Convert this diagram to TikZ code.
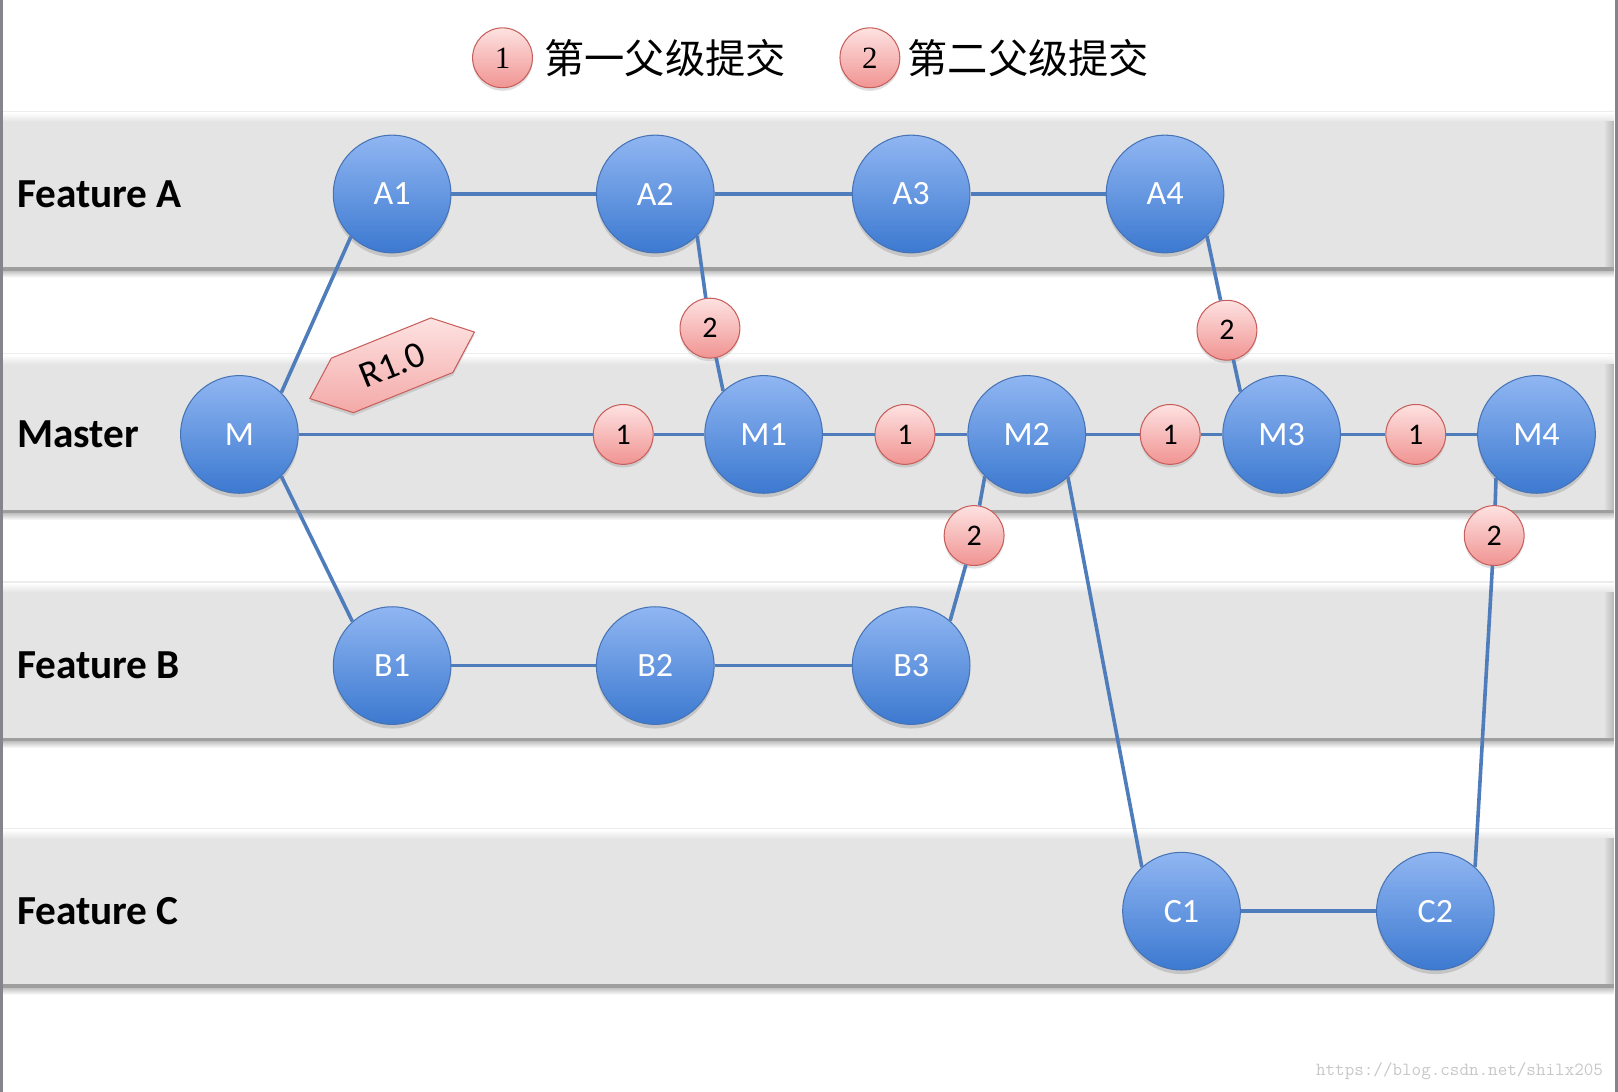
\documentclass[tikz,border=0pt]{standalone}
\usepackage{fontspec}
\setmainfont{Carlito}
\newfontfamily\cjk{Noto Sans CJK SC}
\newfontfamily\keyfont{Liberation Serif}
\usetikzlibrary{shapes.symbols,shadows}
\definecolor{bandgray}{HTML}{E4E4E4}
\definecolor{edgegray}{HTML}{84848C}
\definecolor{committop}{HTML}{90B6F2}
\definecolor{commitbot}{HTML}{3C79D0}
\definecolor{commitline}{HTML}{4673B5}
\definecolor{parenttop}{HTML}{FDE2E1}
\definecolor{parentbot}{HTML}{F09492}
\definecolor{parentline}{HTML}{C85E5B}
\definecolor{linkblue}{HTML}{4F7DBC}

\begin{document}
\begin{tikzpicture}[x=1pt,y=-1pt,
   commit/.style={circle,draw=commitline,line width=1pt,top color=committop,bottom color=commitbot,
     minimum size=114pt,inner sep=0pt,text=white,font=\fontsize{33}{33}\selectfont,
     drop shadow={opacity=.3,shadow xshift=0pt,shadow yshift=-4pt}},
   parent/.style={circle,draw=parentline,line width=1pt,top color=parenttop,bottom color=parentbot,
     minimum size=58pt,inner sep=0pt,font=\fontsize{29}{29}\selectfont,
     drop shadow={opacity=.25,shadow xshift=0pt,shadow yshift=-3pt}},
   lane/.style={anchor=west,font=\fontsize{40}{40}\selectfont\bfseries},
   legend/.style={anchor=west,font=\cjk\fontsize{39}{39}\selectfont},
   link/.style={draw=linkblue,line width=3.5pt}]
\useasboundingbox (0,0) rectangle (1568,1058);
% lanes
\foreach \t in {109,344,565,804} {
  \fill[bandgray] (3,\t) rectangle (1564,\t+154);
  \shade[top color=white,bottom color=bandgray] (3,\t) rectangle (1564,\t+9);
  \shade[left color=bandgray,right color=black!28] (1554,\t+9) rectangle (1564,\t+151);
  \fill[black!38] (3,\t+150) rectangle (1564,\t+154);
  \shade[top color=black!22,bottom color=white] (3,\t+154) rectangle (1564,\t+160);
  \draw[black!7,line width=1pt] (3,\t-1) -- (1564,\t-1);
}
\draw[edgegray,line width=3pt] (1.5,0) -- (1.5,1058) (1566.5,0) -- (1566.5,1058);
\node[lane] (labA) at (13,188) {Feature A};
\node[lane] (labM) at (13,421) {Master};
\node[lane] (labB) at (13,645) {Feature B};
\node[lane] (labC) at (13,883) {Feature C};
% legend
\node[parent,font=\keyfont\fontsize{30}{30}\selectfont] (key1) at (487,56) {1};
\node[legend] (key1txt) at (524,56) {第一父级提交};
\node[parent,font=\keyfont\fontsize{30}{30}\selectfont] (key2) at (843,56) {2};
\node[legend] (key2txt) at (876,56) {第二父级提交};
% commits
\foreach \n/\x/\y in {A1/380/188,A2/635/188,A3/883/188,A4/1129/188,
    M/232/421,M1/740/421,M2/995/421,M3/1242/421,M4/1489/421,
    B1/380/645,B2/635/645,B3/883/645,C1/1145/883,C2/1391/883}
  \node[commit] (\n) at (\x,\y) {\n};
% parents
\foreach \n/\x/\y in {f1/604/421,f2/877/421,f3/1134/421,f4/1372/421}
  \node[parent] (\n) at (\x,\y) {1};
\foreach \n/\x/\y in {s1/688/318,s2/1189/320,s3/944/519,s4/1448/519}
  \node[parent] (\n) at (\x,\y) {2};
\node[shape=signal,signal to=west and east,signal pointer angle=80,draw=parentline,line width=1pt,
  top color=parenttop,bottom color=parentbot!80,minimum width=172pt,minimum height=57pt,
  inner sep=2pt,rotate=22,font=\fontsize{36}{36}\selectfont,
  drop shadow={opacity=.25,shadow xshift=0pt,shadow yshift=-3pt}] (tag) at (380,354) {R1.0};
% links
\path[link] (M) -- (f1) -- (M1) -- (f2) -- (M2) -- (f3) -- (M3) -- (f4) -- (M4);
\path[link] (A1) -- (A2) -- (A3) -- (A4);
\path[link] (B1) -- (B2) -- (B3);
\path[link] (C1) -- (C2);
\path[link] (M.45) -- (A1.226);
\path[link] (M.-45) -- (B1.132);
\path[link] (A2.-45) -- (s1) -- (M1.133);
\path[link] (A4.-45) -- (s2) -- (M3.134);
\path[link] (B3.49) -- (s3) -- (M2.225);
\path[link] (C2.48) -- (s4) -- (M4.227);
\path[link] (M2.-46) -- (C1.132);
\node[anchor=east,text=black!22,font=\ttfamily\fontsize{18}{18}\selectfont] (mark) at (1557,1038) {https://blog.csdn.net/shilx205};
\end{tikzpicture}
\end{document}
